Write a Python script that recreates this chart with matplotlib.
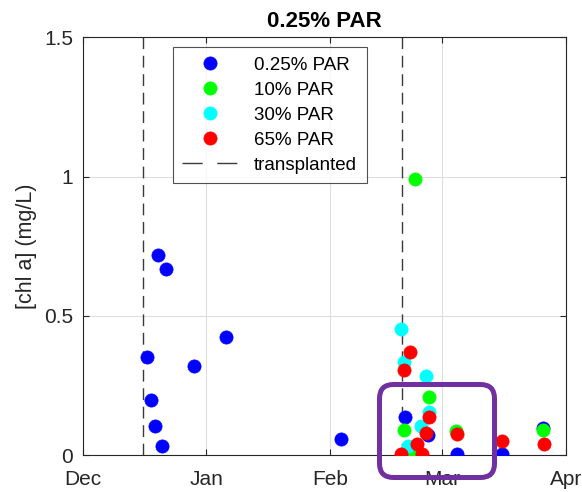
import matplotlib
matplotlib.use("Agg")
import matplotlib.pyplot as plt
from matplotlib.patches import FancyBboxPatch
from matplotlib.lines import Line2D
import pandas as pd

plt.rcParams['font.family'] = ['Liberation Sans', 'DejaVu Sans']

# ---- data ----
blue_dates = ['2020-12-17 00:00', '2020-12-18 00:00', '2020-12-19 00:00', '2020-12-19 22:00',
              '2020-12-21 00:00', '2020-12-21 22:00', '2020-12-28 22:00', '2021-01-06 00:00',
              '2021-02-03 17:00', '2021-02-19 17:00', '2021-02-25 10:00', '2021-03-04 17:00',
              '2021-03-16 00:00', '2021-03-26 07:00']
blue_vals = [0.352, 0.198, 0.103, 0.720, 0.031, 0.669, 0.321, 0.424,
             0.057, 0.136, 0.073, 0.004, 0.005, 0.097]

green_dates = ['2021-02-19 14:00', '2021-02-21 10:00', '2021-02-22 07:00', '2021-02-25 19:00',
               '2021-03-04 14:00', '2021-03-26 07:00']
green_vals = [0.091, 0.002, 0.992, 0.210, 0.085, 0.091]

cyan_dates = ['2021-02-18 19:00', '2021-02-19 14:00', '2021-02-20 12:00', '2021-02-23 17:00',
              '2021-02-25 00:00', '2021-02-25 19:00']
cyan_vals = [0.452, 0.336, 0.031, 0.105, 0.285, 0.153]

red_dates = ['2021-02-18 19:00', '2021-02-19 14:00', '2021-02-20 22:00', '2021-02-22 17:00',
             '2021-02-23 22:00', '2021-02-25 00:00', '2021-02-25 19:00', '2021-03-04 17:00',
             '2021-03-16 00:00', '2021-03-26 14:00']
red_vals = [0.004, 0.306, 0.372, 0.039, 0.005, 0.079, 0.136, 0.075, 0.052, 0.041]

transplant_dates = ['2020-12-16', '2021-02-19']

series_labels = ['0.25% PAR', '10% PAR', '30% PAR', '65% PAR']
series_colors = ['#0000FF', '#00FF00', '#00FFFF', '#FF0000']
month_ticks = ['2020-12-01', '2021-01-01', '2021-02-01', '2021-03-01', '2021-04-01']
month_labels = ['Dec', 'Jan', 'Feb', 'Mar', 'Apr']
y_ticks = [0, 0.5, 1, 1.5]
y_labels = ['0', '0.5', '1', '1.5']

# ---- figure ----
fig = plt.figure(figsize=(5.82, 4.92), dpi=100)
ax = fig.add_axes([0.142, 0.075, 0.830, 0.849])

all_dates = [blue_dates, green_dates, cyan_dates, red_dates]
all_vals = [blue_vals, green_vals, cyan_vals, red_vals]
handles = []
for d, v, c, lab in zip(all_dates, all_vals, series_colors, series_labels):
    h, = ax.plot(pd.to_datetime(d), v, linestyle='none', marker='o', markersize=9.5,
                 markerfacecolor=c, markeredgecolor=c, markeredgewidth=0.5, label=lab, zorder=3)
    handles.append(h)

for td in transplant_dates:
    ax.axvline(pd.to_datetime(td), color='#3a3a3a', linewidth=1.0, dashes=(8.5, 4.8), zorder=2)
handles.append(Line2D([], [], color='#3a3a3a', linewidth=1.0, dashes=(14.5, 10.5),
                      label='transplanted'))

ax.set_xlim(pd.to_datetime(month_ticks[0]), pd.to_datetime(month_ticks[-1]))
ax.set_ylim(0, 1.5)
ax.set_xticks(pd.to_datetime(month_ticks))
ax.set_xticklabels(month_labels)
ax.set_yticks(y_ticks)
ax.set_yticklabels(y_labels)
ax.grid(True, color='#dedede', linewidth=0.8)
ax.set_axisbelow(True)
ax.tick_params(direction='in', length=4, width=0.8, top=True, right=True,
               labelsize=15, colors='#262626')
ax.tick_params(axis='x', pad=11)
ax.tick_params(axis='y', pad=7)
for s in ax.spines.values():
    s.set_color('#262626')
    s.set_linewidth(0.8)

ax.set_ylabel('[chl a] (mg/L)', fontsize=15.5, color='#262626', labelpad=5)
ax.set_title('0.25% PAR', fontsize=16, fontweight='bold', pad=7.7)

leg = ax.legend(handles=handles, loc='upper left', bbox_to_anchor=(0.1863, 0.976),
                fontsize=13.5, frameon=True, fancybox=False, edgecolor='#262626',
                handlelength=2.95, handletextpad=0.9, borderpad=0.5, labelspacing=0.42,
                borderaxespad=0)
leg.get_frame().set_linewidth(0.8)

# purple highlight box
box = FancyBboxPatch((3.795, 0.145), 1.15, 0.93,
                     boxstyle='round,pad=0,rounding_size=0.14',
                     transform=fig.dpi_scale_trans, fill=False,
                     edgecolor='#7030A0', linewidth=3.6, clip_on=False, zorder=10)
fig.patches.append(box)

fig.savefig('out.png', dpi=100)
